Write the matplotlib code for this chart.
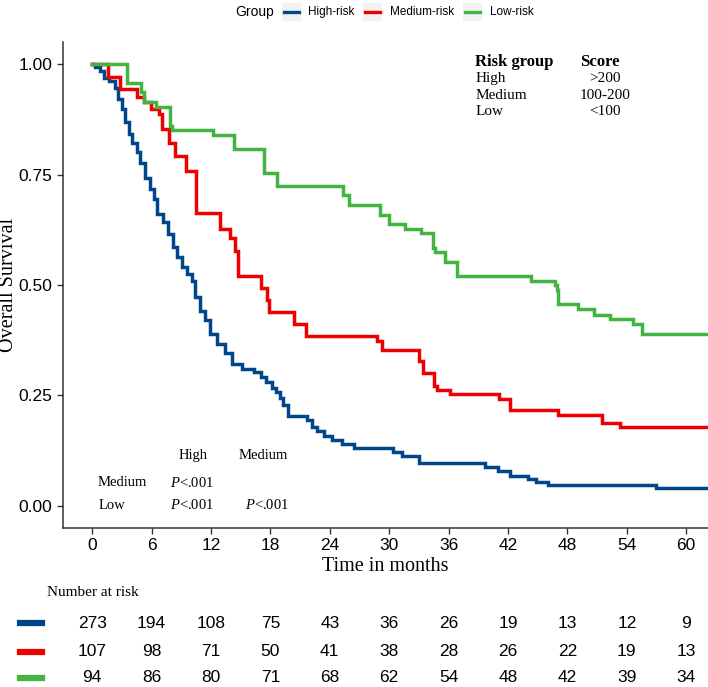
import matplotlib
matplotlib.use("Agg")
import matplotlib.pyplot as plt
from matplotlib.lines import Line2D
from matplotlib.patches import Rectangle
from matplotlib.transforms import blended_transform_factory

plt.rcParams['mathtext.fontset'] = 'custom'
plt.rcParams['mathtext.it'] = 'Liberation Serif:italic'
plt.rcParams['mathtext.rm'] = 'Liberation Serif'

# Kaplan-Meier step points (time in months, survival)
high_t = [0, 0.3, 0.8, 1.15, 1.65, 2.3, 2.65, 3.0, 3.33, 3.67, 4.0, 4.5, 4.85, 5.35, 5.85,
          6.2, 6.5, 7.2, 7.7, 8.2, 8.55, 9.06, 9.56, 10.07, 10.4, 10.9, 11.4, 11.9, 12.6,
          13.4, 14.1, 15.1, 16.3, 17.1, 17.6, 18.2, 18.6, 19.0, 19.3, 19.8, 21.7, 22.2,
          22.7, 23.4, 24.2, 25.2, 26.4, 30.4, 31.3, 33.0, 39.7, 41.0, 42.2, 44.0, 44.8,
          46.0, 56.9, 63]
high_s = [1.0, 0.993, 0.985, 0.969, 0.962, 0.947, 0.921, 0.898, 0.868, 0.841, 0.822, 0.800,
          0.777, 0.743, 0.717, 0.695, 0.660, 0.642, 0.616, 0.585, 0.563, 0.540, 0.525, 0.510,
          0.472, 0.442, 0.420, 0.390, 0.367, 0.345, 0.322, 0.311, 0.303, 0.292, 0.280, 0.266,
          0.258, 0.245, 0.228, 0.203, 0.194, 0.179, 0.170, 0.158, 0.149, 0.141, 0.132, 0.123,
          0.113, 0.097, 0.088, 0.078, 0.068, 0.060, 0.054, 0.048, 0.041, 0.041]

med_t = [0, 1.6, 2.8, 4.5, 5.2, 5.9, 6.7, 7.0, 7.8, 8.4, 9.5, 10.5, 12.9, 13.9, 14.45, 14.7,
         17.1, 17.7, 17.9, 20.4, 21.6, 28.8, 29.3, 33.0, 33.4, 34.5, 34.8, 36.1, 41.1, 42.2,
         47.0, 51.5, 53.3, 63]
med_s = [1.0, 0.971, 0.943, 0.925, 0.914, 0.898, 0.888, 0.853, 0.822, 0.792, 0.757, 0.663,
         0.627, 0.607, 0.578, 0.521, 0.494, 0.467, 0.440, 0.411, 0.384, 0.374, 0.354, 0.327,
         0.300, 0.271, 0.262, 0.253, 0.243, 0.217, 0.205, 0.187, 0.178, 0.178]

low_t = [0, 3.5, 4.95, 5.2, 6.4, 7.9, 8.1, 12.25, 14.35, 17.4, 18.65, 25.3, 25.9, 29.1, 30.0,
         31.6, 33.2, 34.4, 34.6, 35.65, 36.8, 44.3, 46.7, 46.9, 47.0, 49.1, 50.7, 52.3, 54.6,
         55.5, 63]
low_s = [1.0, 0.957, 0.936, 0.914, 0.904, 0.859, 0.850, 0.840, 0.807, 0.753, 0.723, 0.704,
         0.681, 0.659, 0.638, 0.627, 0.617, 0.584, 0.574, 0.553, 0.520, 0.510, 0.499, 0.489,
         0.456, 0.445, 0.433, 0.423, 0.412, 0.390, 0.390]

groups = ["High-risk", "Medium-risk", "Low-risk"]
colors = ["#00468B", "#ED0000", "#42B540"]

risk_times = [0, 6, 12, 18, 24, 30, 36, 42, 48, 54, 60]
risk_high = [273, 194, 108, 75, 43, 36, 26, 19, 13, 12, 9]
risk_med = [107, 98, 71, 50, 41, 38, 28, 26, 22, 19, 13]
risk_low = [94, 86, 80, 71, 68, 62, 54, 48, 42, 39, 34]

W, H = 708, 687
fig = plt.figure(figsize=(W / 100, H / 100), dpi=100)
ax = fig.add_axes([63 / W, 1 - 528 / H, (W - 63) / W, (528 - 42) / H])

serif = "Liberation Serif"
sans = "Liberation Sans"

for t, s, c in zip([high_t, med_t, low_t], [high_s, med_s, low_s], colors):
    ax.step(t, s, where="post", color=c, lw=2.5, solid_joinstyle="miter")

ax.set_xlim(-2.95, 62.2)
ax.set_ylim(-0.05, 1.05)
ax.set_xticks(risk_times)
ax.set_yticks([0, 0.25, 0.5, 0.75, 1.0])
ax.set_yticklabels(["0.00", "0.25", "0.50", "0.75", "1.00"])
for sp in ["top", "right"]:
    ax.spines[sp].set_visible(False)
for sp in ["left", "bottom"]:
    ax.spines[sp].set_color("#333333")
    ax.spines[sp].set_linewidth(1.1)
ax.tick_params(length=4, width=1, color="#333333", labelsize=12.5)
for lab in ax.get_xticklabels() + ax.get_yticklabels():
    lab.set_fontfamily(sans)
ax.set_xlabel("Time in months", fontfamily=serif, fontsize=14.5, labelpad=2.5)
ax.set_ylabel("Overall Survival", fontfamily=serif, fontsize=14.5)
ax.yaxis.set_label_coords((18 - 63) / (W - 63), 0.5)

# risk group score table
ax.text(38.7, 1.005, "Risk group", fontfamily=serif, fontsize=12, fontweight="bold", va="center")
ax.text(49.3, 1.005, "Score", fontfamily=serif, fontsize=12, fontweight="bold", va="center")
for i, (g, sc) in enumerate(zip(["High", "Medium", "Low"], [">200", "100-200", "<100"])):
    y = 0.968 - i * 0.038
    ax.text(38.7, y, g, fontfamily=serif, fontsize=11, va="center")
    ax.text(51.8, y, sc, fontfamily=serif, fontsize=11, va="center", ha="center")

# pairwise p-values
pk = dict(fontsize=10.5, va="center", ha="center", fontfamily=serif)
ax.text(10.2, 0.113, "High", **pk)
ax.text(17.3, 0.113, "Medium", **pk)
ax.text(3.0, 0.052, "Medium", **pk)
ax.text(2.0, 0.002, "Low", **pk)
ax.text(10.1, 0.052, r"$\it{P}$<.001", **pk)
ax.text(10.1, 0.002, r"$\it{P}$<.001", **pk)
ax.text(17.7, 0.002, r"$\it{P}$<.001", **pk)

# legend on top
fig.text(255 / W, 1 - 12 / H, "Group", fontfamily=sans, fontsize=10, ha="center", va="center")
key_x = [282, 363, 463]
lab_x = [308, 390, 490]
for kx, lx, g, c in zip(key_x, lab_x, groups, colors):
    fig.add_artist(Rectangle((kx / W, 1 - 21 / H), 19 / W, 18 / H, color="#F2F2F2",
                             transform=fig.transFigure, lw=0))
    fig.add_artist(Line2D([(kx + 2) / W, (kx + 17) / W], [1 - 12 / H] * 2, color=c, lw=2.4,
                          transform=fig.transFigure))
    fig.text(lx / W, 1 - 12 / H, g, fontfamily=sans, fontsize=8.5, va="center")

# number at risk table
fig.text(47 / W, 1 - 592 / H, "Number at risk", fontfamily=serif, fontsize=11, va="center")
tr = blended_transform_factory(ax.transData, fig.transFigure)
rows_y = [623, 652, 678]
for counts, c, py in zip([risk_high, risk_med, risk_low], colors, rows_y):
    fig.add_artist(Line2D([20 / W, 42 / W], [1 - py / H] * 2, color=c, lw=4.5,
                          transform=fig.transFigure))
    for t, n in zip(risk_times, counts):
        ax.text(t, 1 - py / H, str(n), transform=tr, fontfamily=sans, fontsize=12.5,
                ha="center", va="center")

fig.savefig("out.png", dpi=100)
